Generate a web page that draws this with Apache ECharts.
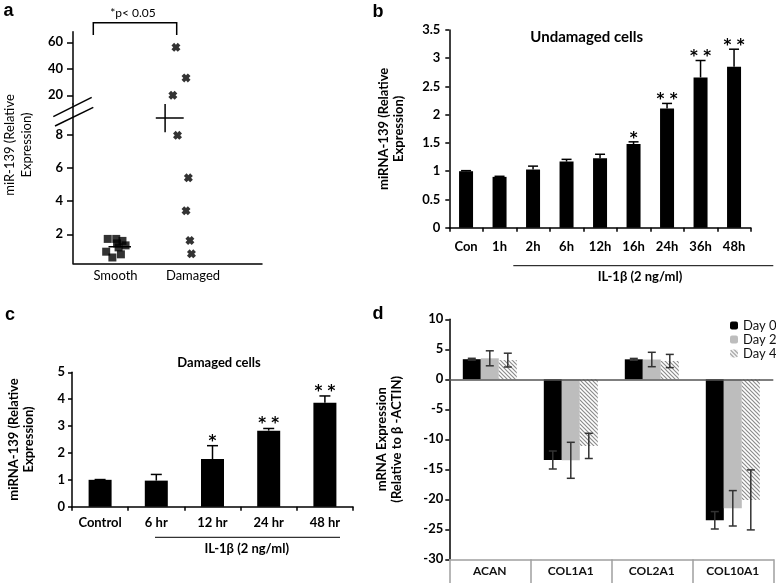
<!DOCTYPE html>
<html><head><meta charset="utf-8">
<script src="https://cdn.jsdelivr.net/npm/echarts@6/dist/echarts.min.js"></script>
<style>html,body{margin:0;padding:0;background:#fff}#c{width:776px;height:583px}</style>
</head><body><div id="c"></div>
<script>
// ---------- Panel a (scatter, broken axis) ----------
const aCategories = ['Smooth', 'Damaged'];
const aSmoothX = [0.90, 1.01, 1.09, 1.13, 1.04, 0.88, 1.07, 0.96, 1.02];
const aSmoothY = [1.72, 1.72, 1.60, 1.33, 1.21, 0.95, 0.79, 0.60, 1.45];
const aDamagedX = [1.78, 1.91, 1.74, 1.80, 1.94, 1.91, 1.96, 1.98];
const aDamagedY = [56.2, 33.1, 20.0, 7.96, 5.40, 3.42, 1.62, 0.82];
const aSmoothMedian = 1.25;
const aSmoothMedianSpan = [0.91, 1.20];
const aDamagedMean = 9.0;
const aDamagedMeanErr = 0.85;
const aDamagedMeanX = 1.64;
const aDamagedMeanSpan = [1.52, 1.88];
const aLowerTicks = [2, 4, 6, 8];
const aUpperTicks = [20, 40, 60];
const aBreak = 12;

// ---------- Panel b ----------
const bCategories = ['Con', '1h', '2h', '6h', '12h', '16h', '24h', '36h', '48h'];
const bValues = [1.00, 0.90, 1.03, 1.17, 1.23, 1.48, 2.11, 2.66, 2.85];
const bErrors = [0.01, 0.01, 0.06, 0.04, 0.07, 0.04, 0.09, 0.30, 0.31];
const bSig = ['', '', '', '', '', '*', '**', '**', '**'];

// ---------- Panel c ----------
const cCategories = ['Control', '6 hr', '12 hr', '24 hr', '48 hr'];
const cValues = [1.00, 0.97, 1.77, 2.83, 3.87];
const cErrors = [0.01, 0.23, 0.50, 0.08, 0.25];
const cSig = ['', '', '*', '**', '**'];

// ---------- Panel d ----------
const dCategories = ['ACAN', 'COL1A1', 'COL2A1', 'COL10A1'];
const dSeriesNames = ['Day 0', 'Day 2', 'Day 4'];
const dDay0 = [3.35, -13.45, 3.33, -23.5];
const dDay0Err = [0.15, 1.5, 0.15, 1.45];
const dDay2 = [3.5, -13.5, 3.3, -21.5];
const dDay2Err = [1.25, 3.0, 1.2, 2.95];
const dDay4 = [3.2, -11.1, 3.05, -20.1];
const dDay4Err = [1.15, 2.1, 1.1, 5.0];

const FONT = 'Lato';
const chart = echarts.init(document.getElementById('c'));

function hatch() {
  const c = document.createElement('canvas');
  c.width = 4; c.height = 4;
  const g = c.getContext('2d');
  g.fillStyle = '#fff'; g.fillRect(0, 0, 4, 4);
  g.strokeStyle = '#8c8c8c'; g.lineWidth = 1.2;
  g.beginPath();
  g.moveTo(0, 0); g.lineTo(4, 4);
  g.moveTo(-2, 2); g.lineTo(2, 6);
  g.moveTo(2, -2); g.lineTo(6, 2);
  g.stroke();
  return c;
}

function errRender(values, errs, sigs, o) {
  return function (params, api) {
    const i = params.dataIndex;
    const v = values[i], e = errs[i];
    const pTop = api.coord([i, v + e]);
    const pBot = api.coord([i, o.both ? v - e : v]);
    const x = pTop[0] + (o.offset || 0);
    const hw = o.cap / 2;
    const st = { stroke: o.color, lineWidth: o.lw };
    const ch = [
      { type: 'line', shape: { x1: x, y1: pTop[1], x2: x, y2: pBot[1] }, style: st },
      { type: 'line', shape: { x1: x - hw, y1: pTop[1], x2: x + hw, y2: pTop[1] }, style: st }
    ];
    if (o.both) ch.push({ type: 'line', shape: { x1: x - hw, y1: pBot[1], x2: x + hw, y2: pBot[1] }, style: st });
    if (sigs && sigs[i]) {
      ch.push({ type: 'text', x: x, y: pTop[1] - o.sigGap,
        style: { text: sigs[i].split('').join(' '), fill: '#000', align: 'center', verticalAlign: 'middle',
          font: 'bold ' + o.sigSize + 'px "DejaVu Sans"' } });
    }
    return { type: 'group', children: ch };
  };
}

const tickLabel = { color: '#000', fontFamily: FONT, fontWeight: 'bold', fontSize: 13 };
const blackLine = { show: true, lineStyle: { color: '#000', width: 1.5 } };

const aDamagedUpper = [], aDamagedLower = [];
aDamagedX.forEach((x, i) => (aDamagedY[i] >= aBreak ? aDamagedUpper : aDamagedLower).push([x, aDamagedY[i]]));
const xMark = 'path://M0,3 L3,0 L5,2 L7,0 L10,3 L8,5 L10,7 L7,10 L5,8 L3,10 L0,7 L2,5 Z';

const option = {
  backgroundColor: '#fff',
  animation: false,
  legend: {
    data: dSeriesNames, orient: 'vertical', left: 725, top: 314,
    itemWidth: 8, itemHeight: 8, itemGap: 1,
    textStyle: { fontFamily: FONT, fontSize: 13, color: '#111', lineHeight: 13 }
  },
  grid: [
    { left: 73, top: 31.7, width: 189, height: 72.3 },
    { left: 73, top: 104, width: 189, height: 159.3 },
    { left: 449.3, top: 30, width: 301.5, height: 197.7 },
    { left: 72, top: 372.3, width: 281, height: 134.4 },
    { left: 449.3, top: 319.3, width: 324, height: 240 }
  ],
  xAxis: [
    { gridIndex: 0, type: 'value', min: 0.452, max: 2.89, show: false },
    { gridIndex: 1, type: 'value', min: 0.452, max: 2.89, axisLine: blackLine, axisTick: { show: false }, splitLine: { show: false },
      axisLabel: { customValues: [1, 2], formatter: v => aCategories[Math.round(v) - 1], color: '#000', fontFamily: FONT, fontSize: 13, margin: 6 } },
    { gridIndex: 2, type: 'category', data: bCategories, axisLine: blackLine,
      axisTick: { show: true, length: 4, interval: 0, lineStyle: { color: '#000', width: 1.5 } },
      axisLabel: Object.assign({ interval: 0, margin: 13 }, tickLabel) },
    { gridIndex: 3, type: 'category', data: cCategories, axisLine: blackLine,
      axisTick: { show: true, length: 4, interval: 0, lineStyle: { color: '#000', width: 1.5 } },
      axisLabel: Object.assign({ interval: 0, margin: 10 }, tickLabel) },
    { gridIndex: 4, type: 'category', data: dCategories, position: 'bottom',
      axisLine: { onZero: false, lineStyle: { color: '#a0a0a0', width: 1.5 } },
      axisTick: { show: true, length: 24, interval: 0, lineStyle: { color: '#a0a0a0', width: 1.5 } },
      axisLabel: { interval: 0, margin: 6, color: '#111', fontFamily: FONT, fontWeight: 'bold', fontSize: 12 } }
  ],
  yAxis: [
    { gridIndex: 0, type: 'value', min: 13.4, max: 68, axisLine: blackLine, splitLine: { show: false },
      axisTick: { show: true, length: 6, customValues: aUpperTicks, lineStyle: { color: '#000', width: 1.5 } },
      axisLabel: Object.assign({ customValues: aUpperTicks, margin: 10 }, tickLabel) },
    { gridIndex: 1, type: 'value', min: 0.25, max: 9.85, axisLine: blackLine, splitLine: { show: false },
      axisTick: { show: true, length: 6, customValues: aLowerTicks, lineStyle: { color: '#000', width: 1.5 } },
      axisLabel: Object.assign({ customValues: aLowerTicks, margin: 10 }, tickLabel) },
    { gridIndex: 2, type: 'value', min: 0, max: 3.5, interval: 0.5, axisLine: blackLine, splitLine: { show: false },
      axisTick: { show: true, length: 4, lineStyle: { color: '#000', width: 1.5 } },
      axisLabel: Object.assign({ margin: 9 }, tickLabel),
      name: 'miRNA-139 (Relative\nExpression)', nameLocation: 'middle', nameGap: 43,
      nameTextStyle: { fontFamily: FONT, fontWeight: 'bold', fontSize: 13, lineHeight: 15, color: '#000' } },
    { gridIndex: 3, type: 'value', min: 0, max: 5, interval: 1, axisLine: blackLine, splitLine: { show: false },
      axisTick: { show: true, length: 4, lineStyle: { color: '#000', width: 1.5 } },
      axisLabel: Object.assign({ margin: 7 }, tickLabel),
      name: 'miRNA-139 (Relative\nExpression)', nameLocation: 'middle', nameGap: 36,
      nameTextStyle: { fontFamily: FONT, fontWeight: 'bold', fontSize: 13, lineHeight: 15, color: '#000' } },
    { gridIndex: 4, type: 'value', min: -30, max: 10, interval: 5, axisLine: blackLine, splitLine: { show: false },
      axisTick: { show: true, length: 4, lineStyle: { color: '#000', width: 1.5 } },
      axisLabel: Object.assign({ margin: 6 }, tickLabel),
      name: 'mRNA Expression\n(Relative to β -ACTIN)', nameLocation: 'middle', nameGap: 45,
      nameTextStyle: { fontFamily: FONT, fontWeight: 'bold', fontSize: 13, lineHeight: 15, color: '#000' } }
  ],
  series: [
    // panel a
    { type: 'scatter', xAxisIndex: 0, yAxisIndex: 0, data: aDamagedUpper, symbol: xMark, symbolSize: 9, itemStyle: { color: '#000' } },
    { type: 'scatter', xAxisIndex: 1, yAxisIndex: 1, data: aDamagedLower, symbol: xMark, symbolSize: 9, itemStyle: { color: '#000' } },
    { type: 'scatter', xAxisIndex: 1, yAxisIndex: 1, data: aSmoothX.map((x, i) => [x, aSmoothY[i]]), symbol: 'rect', symbolSize: 8, itemStyle: { color: '#000' } },
    { type: 'line', xAxisIndex: 1, yAxisIndex: 1, data: aSmoothMedianSpan.map(x => [x, aSmoothMedian]), symbol: 'none', lineStyle: { color: '#000', width: 1.5 } },
    { type: 'line', xAxisIndex: 1, yAxisIndex: 1, data: aDamagedMeanSpan.map(x => [x, aDamagedMean]), symbol: 'none', lineStyle: { color: '#000', width: 1.5 } },
    { type: 'line', xAxisIndex: 1, yAxisIndex: 1, data: [[aDamagedMeanX, aDamagedMean - aDamagedMeanErr], [aDamagedMeanX, aDamagedMean + aDamagedMeanErr]], symbol: 'none', lineStyle: { color: '#000', width: 1.5 } },
    // panel b
    { type: 'bar', xAxisIndex: 2, yAxisIndex: 2, data: bValues, barWidth: 14, itemStyle: { color: '#000' } },
    { type: 'custom', xAxisIndex: 2, yAxisIndex: 2, data: bValues.map((v, i) => [i, v]), clip: false, z: 5,
      renderItem: errRender(bValues, bErrors, bSig, { cap: 10, lw: 1.5, color: '#000', sigGap: 3, sigSize: 15 }) },
    // panel c
    { type: 'bar', xAxisIndex: 3, yAxisIndex: 3, data: cValues, barWidth: 23, itemStyle: { color: '#000' } },
    { type: 'custom', xAxisIndex: 3, yAxisIndex: 3, data: cValues.map((v, i) => [i, v]), clip: false, z: 5,
      renderItem: errRender(cValues, cErrors, cSig, { cap: 11, lw: 1.5, color: '#000', sigGap: 4, sigSize: 15 }) },
    // panel d
    { name: 'Day 0', type: 'bar', xAxisIndex: 4, yAxisIndex: 4, data: dDay0, barWidth: 18, barGap: '0%', itemStyle: { color: '#000' },
      markLine: { silent: true, symbol: 'none', label: { show: false }, lineStyle: { color: '#555', width: 1.5, type: 'solid' }, data: [{ yAxis: 0 }] } },
    { name: 'Day 2', type: 'bar', xAxisIndex: 4, yAxisIndex: 4, data: dDay2, barWidth: 18, barGap: '0%', itemStyle: { color: '#bdbdbd' } },
    { name: 'Day 4', type: 'bar', xAxisIndex: 4, yAxisIndex: 4, data: dDay4, barWidth: 18, barGap: '0%', itemStyle: { color: { image: hatch(), repeat: 'repeat' } } },
    { type: 'custom', xAxisIndex: 4, yAxisIndex: 4, data: dDay0.map((v, i) => [i, v]), clip: false, z: 5,
      renderItem: errRender(dDay0, dDay0Err, null, { cap: 8, lw: 1.5, color: '#333', both: true, offset: -18 }) },
    { type: 'custom', xAxisIndex: 4, yAxisIndex: 4, data: dDay2.map((v, i) => [i, v]), clip: false, z: 5,
      renderItem: errRender(dDay2, dDay2Err, null, { cap: 8, lw: 1.5, color: '#333', both: true, offset: 0 }) },
    { type: 'custom', xAxisIndex: 4, yAxisIndex: 4, data: dDay4.map((v, i) => [i, v]), clip: false, z: 5,
      renderItem: errRender(dDay4, dDay4Err, null, { cap: 8, lw: 1.5, color: '#333', both: true, offset: 18 }) }
  ],
  graphic: [
    // panel letters
    { type: 'text', x: 8.5, y: 11, style: { text: 'a', font: 'bold 18px "Liberation Sans"', fill: '#000', align: 'center', verticalAlign: 'middle' } },
    { type: 'text', x: 378, y: 12, style: { text: 'b', font: 'bold 18px "Liberation Sans"', fill: '#000', align: 'center', verticalAlign: 'middle' } },
    { type: 'text', x: 10, y: 315, style: { text: 'c', font: 'bold 18px "Liberation Sans"', fill: '#000', align: 'center', verticalAlign: 'middle' } },
    { type: 'text', x: 378, y: 314, style: { text: 'd', font: 'bold 18px "Liberation Sans"', fill: '#000', align: 'center', verticalAlign: 'middle' } },
    // panel a decorations
    { type: 'text', x: 18, y: 145, rotation: Math.PI / 2, style: { text: 'miR-139 (Relative\nExpression)', font: '13px Lato', lineHeight: 17, fill: '#000', align: 'center', verticalAlign: 'middle' } },
    { type: 'text', x: 133, y: 13.5, style: { text: '*p< 0.05', font: '12px Lato', fill: '#000', align: 'center', verticalAlign: 'middle' } },
    { type: 'polyline', shape: { points: [[93.3, 35], [93.3, 22.7], [176.7, 22.7], [176.7, 35]] }, style: { stroke: '#000', lineWidth: 1.5, fill: null } },
    { type: 'line', shape: { x1: 53.3, y1: 116.7, x2: 91.7, y2: 97.3 }, style: { stroke: '#000', lineWidth: 1.5 } },
    { type: 'line', shape: { x1: 55, y1: 126, x2: 93.3, y2: 107.3 }, style: { stroke: '#000', lineWidth: 1.5 } },
    // panel b
    { type: 'text', x: 586.7, y: 36.7, style: { text: 'Undamaged cells', font: 'bold 15px Lato', fill: '#000', align: 'center', verticalAlign: 'middle' } },
    { type: 'line', shape: { x1: 513.3, y1: 265.7, x2: 773.3, y2: 265.7 }, style: { stroke: '#000', lineWidth: 1 } },
    { type: 'text', x: 640, y: 277, style: { text: 'IL-1β (2 ng/ml)', font: 'bold 13px Lato', fill: '#000', align: 'center', verticalAlign: 'middle' } },
    // panel c
    { type: 'text', x: 219, y: 363.3, style: { text: 'Damaged cells', font: 'bold 13px Lato', fill: '#000', align: 'center', verticalAlign: 'middle' } },
    { type: 'line', shape: { x1: 155, y1: 537.3, x2: 340, y2: 537.3 }, style: { stroke: '#000', lineWidth: 1 } },
    { type: 'text', x: 246.7, y: 548.5, style: { text: 'IL-1β (2 ng/ml)', font: 'bold 13px Lato', fill: '#000', align: 'center', verticalAlign: 'middle' } }
  ]
};
chart.setOption(option);
</script>
</body></html>
